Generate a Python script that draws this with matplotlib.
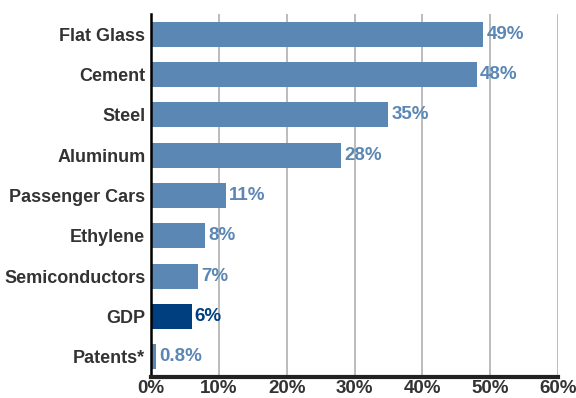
import matplotlib
matplotlib.use("Agg")
import matplotlib.pyplot as plt
import numpy as np

plt.rcParams['font.family'] = ['Liberation Sans', 'DejaVu Sans']
plt.rcParams['font.weight'] = 'bold'

categories = ["Flat Glass", "Cement", "Steel", "Aluminum", "Passenger Cars",
              "Ethylene", "Semiconductors", "GDP", "Patents*"]
values = [49, 48, 35, 28, 11, 8, 7, 6, 0.8]
value_labels = ["49%", "48%", "35%", "28%", "11%", "8%", "7%", "6%", "0.8%"]
ticks = [0, 10, 20, 30, 40, 50, 60]

light = "#5b87b5"
dark = "#003f7f"
colors = [dark if c == "GDP" else light for c in categories]

fig = plt.figure(figsize=(5.76, 3.98), dpi=100)
ax = fig.add_axes([0.262, 0.053, 0.707, 0.912])

y = np.arange(len(categories))
ax.barh(y, values, height=0.62, color=colors, zorder=3)
for yi, v, lab, c in zip(y, values, value_labels, colors):
    ax.text(v + 0.45, yi, lab, va='center', ha='left', color=c,
            fontsize=13.5, fontweight='bold', zorder=4)

ax.set_ylim(len(categories) - 0.5, -0.5)
ax.set_xlim(0, 60)
ax.set_yticks(y)
ax.set_yticklabels(categories, fontsize=13, color="#333333", fontweight='bold')
ax.set_xticks(ticks)
ax.set_xticklabels([f"{t}%" for t in ticks], fontsize=13.5, color="#333333", fontweight='bold')
ax.tick_params(axis='y', length=0, pad=4)
ax.tick_params(axis='x', length=0, pad=2)

ax.grid(axis='x', color="#b0b0b0", linewidth=1.2, zorder=0)
ax.spines['top'].set_visible(False)
ax.spines['right'].set_visible(False)
ax.spines['left'].set_color("black")
ax.spines['left'].set_linewidth(1.8)
ax.spines['bottom'].set_color("#222222")
ax.spines['bottom'].set_linewidth(3)
ax.spines['left'].set_zorder(5)
ax.spines['bottom'].set_zorder(5)

fig.savefig("out.png", dpi=100)
